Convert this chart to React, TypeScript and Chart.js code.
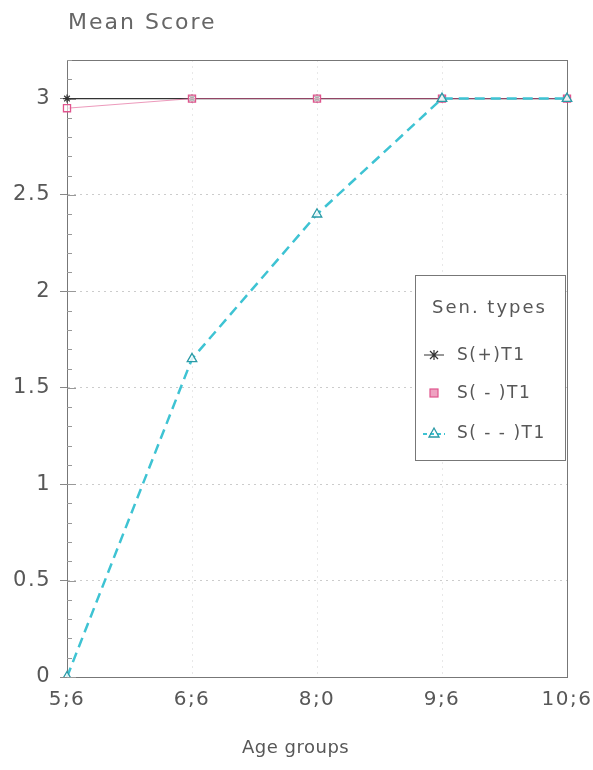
import React, { useEffect, useRef } from "react";
import { Chart, registerables } from "chart.js";

Chart.register(...registerables);

const categories = ["5;6", "6;6", "8;0", "9;6", "10;6"];
const sPlus = [3, 3, 3, 3, 3];
const sMinus = [2.95, 3, 3, 3, 3];
const sMinusMinus = [0, 1.65, 2.4, 3, 3];
const seriesNames = ["S(+)T1", "S( - )T1", "S( - - )T1"];
const legendTitle = "Sen. types";
const yTitle = "Mean Score";
const xTitle = "Age groups";

const FONT = "'DejaVu Sans', 'Liberation Sans', sans-serif";
const TEXT = "#575757";
const BLACK = "#333";
const PINK = "#e0558e";
const CYAN = "#3ec3d3";
const TEAL = "#2a9aa6";

function drawMarker(ctx: CanvasRenderingContext2D, kind: number, x: number, y: number) {
  ctx.save();
  if (kind === 0) {
    ctx.strokeStyle = BLACK;
    ctx.lineWidth = 1.2;
    ctx.beginPath();
    ctx.moveTo(x - 10, y);
    ctx.lineTo(x + 10, y);
    ctx.moveTo(x - 4, y - 4);
    ctx.lineTo(x + 4, y + 4);
    ctx.moveTo(x + 4, y - 4);
    ctx.lineTo(x - 4, y + 4);
    ctx.moveTo(x, y - 5);
    ctx.lineTo(x, y + 5);
    ctx.stroke();
  } else if (kind === 1) {
    ctx.fillStyle = "rgba(224,85,142,0.55)";
    ctx.strokeStyle = PINK;
    ctx.lineWidth = 1.2;
    ctx.fillRect(x - 4, y - 4, 8, 8);
    ctx.strokeRect(x - 4, y - 4, 8, 8);
  } else {
    ctx.strokeStyle = CYAN;
    ctx.lineWidth = 2;
    ctx.setLineDash([4, 3]);
    ctx.beginPath();
    ctx.moveTo(x - 11, y + 1);
    ctx.lineTo(x + 11, y + 1);
    ctx.stroke();
    ctx.setLineDash([]);
    ctx.strokeStyle = TEAL;
    ctx.lineWidth = 1.3;
    ctx.beginPath();
    ctx.moveTo(x, y - 5);
    ctx.lineTo(x + 5, y + 4);
    ctx.lineTo(x - 5, y + 4);
    ctx.closePath();
    ctx.stroke();
  }
  ctx.restore();
}

const framePlugin = {
  id: "frameAndExtras",
  beforeDraw(chart: any) {
    (chart.ctx as any).letterSpacing = "1.5px";
  },
  beforeDatasetsDraw(chart: any) {
    const { ctx, chartArea } = chart;
    const y = chart.scales.y;
    ctx.save();
    ctx.strokeStyle = "#777";
    ctx.lineWidth = 1;
    ctx.strokeRect(chartArea.left + 0.5, chartArea.top + 0.5, chartArea.right - chartArea.left, chartArea.bottom - chartArea.top);
    ctx.strokeStyle = "#999";
    for (let i = 0; i <= 32; i++) {
      const py = Math.round(y.getPixelForValue(i / 10)) + 0.5;
      ctx.beginPath();
      ctx.moveTo(chartArea.left, py);
      ctx.lineTo(chartArea.left + (i % 5 === 0 ? 9 : 5), py);
      ctx.stroke();
    }
    ctx.restore();
  },
  afterDraw(chart: any) {
    const { ctx, chartArea } = chart;
    ctx.save();
    ctx.textBaseline = "middle";
    ctx.textAlign = "left";
    ctx.fillStyle = "#666";
    (ctx as any).letterSpacing = "2px";
    ctx.font = `22px ${FONT}`;
    ctx.fillText(yTitle, chartArea.left + 1, 23);
    (ctx as any).letterSpacing = "0.5px";
    ctx.font = `18px ${FONT}`;
    ctx.fillStyle = TEXT;
    ctx.fillText(xTitle, chartArea.left + 175, 748);
    const w = 150;
    const h = 185;
    const left = chartArea.right - 152;
    const top = chartArea.top + 215;
    ctx.fillStyle = "#fff";
    ctx.fillRect(left, top, w, h);
    ctx.strokeStyle = "#777";
    ctx.lineWidth = 1;
    ctx.strokeRect(left + 0.5, top + 0.5, w, h);
    ctx.fillStyle = TEXT;
    (ctx as any).letterSpacing = "2px";
    ctx.font = `18px ${FONT}`;
    ctx.fillText(legendTitle, left + 17, top + 33);
    const rows = [80, 118, 158];
    for (let i = 0; i < 3; i++) {
      drawMarker(ctx, i, left + 19, top + rows[i]);
      ctx.fillStyle = TEXT;
      ctx.font = `17px ${FONT}`;
      (ctx as any).letterSpacing = "1.5px";
      ctx.fillText(seriesNames[i], left + 42, top + rows[i] + 1);
    }
    ctx.restore();
  },
};

export default function App() {
  const ref = useRef<HTMLCanvasElement>(null);
  useEffect(() => {
    if (!ref.current) return;
    const chart = new Chart(ref.current, {
      type: "line",
      data: {
        labels: categories,
        datasets: [
          {
            label: seriesNames[0],
            data: sPlus,
            borderColor: BLACK,
            borderWidth: 1.2,
            pointStyle: "star",
            pointRadius: 4,
            pointBorderColor: BLACK,
            pointBackgroundColor: BLACK,
            order: 3,
          },
          {
            label: seriesNames[1],
            data: sMinus,
            borderColor: "rgba(224,85,142,0.6)",
            borderWidth: 1,
            pointStyle: "rect",
            pointRadius: 5,
            pointBorderColor: PINK,
            pointBorderWidth: 1.3,
            pointBackgroundColor: "rgba(255,255,255,0.6)",
            order: 2,
          },
          {
            label: seriesNames[2],
            data: sMinusMinus,
            borderColor: CYAN,
            borderWidth: 2.5,
            borderDash: [10, 6],
            pointStyle: "triangle",
            pointRadius: 5.5,
            pointBorderColor: TEAL,
            pointBorderWidth: 1.3,
            pointBackgroundColor: "rgba(255,255,255,0.8)",
            order: 1,
          },
        ],
      },
      options: {
        animation: false,
        responsive: false,
        maintainAspectRatio: false,
        layout: { padding: { top: 60, right: 26, bottom: 0, left: 0 } },
        plugins: {
          legend: { display: false },
          tooltip: { enabled: false },
        },
        scales: {
          x: {
            type: "category",
            offset: false,
            grid: {
              color: "rgba(0,0,0,0.09)",
              drawTicks: false,
            },
            border: { display: true, color: "#555", dash: [2, 4] },
            ticks: {
              color: TEXT,
              font: { family: FONT, size: 20 },
              padding: 11,
              maxRotation: 0,
              autoSkip: false,
            },
            title: { display: false },
            afterFit: (s: any) => {
              s.height = 93;
              s.paddingLeft = 0;
              s.paddingRight = 0;
            },
          },
          y: {
            min: 0,
            max: 3.2,
            grid: {
              color: (c: any) => (c.tick && c.tick.value > 0 && c.tick.value < 3 ? "rgba(0,0,0,0.2)" : "rgba(0,0,0,0)"),
              tickColor: (c: any) => (c.tick && c.tick.value > 3.1 ? "rgba(0,0,0,0)" : "#888"),
              tickLength: 7,
            },
            border: { display: true, color: "#555", dash: [2, 4] },
            ticks: {
              stepSize: 0.5,
              color: TEXT,
              font: { family: FONT, size: 21 },
              padding: 9,
              callback: (v: any) => {
                const n = Number(v);
                return Math.abs(n * 2 - Math.round(n * 2)) < 1e-6 ? String(n) : "";
              },
            },
            afterFit: (s: any) => {
              s.width = 67;
              s.paddingTop = 0;
              s.paddingBottom = 0;
            },
          },
        },
      },
      plugins: [framePlugin],
    });
    return () => chart.destroy();
  }, []);
  return (
    <div style={{ position: "fixed", left: 0, top: 0, width: 593, height: 770, background: "#fff" }}>
      <canvas ref={ref} width={593} height={770} style={{ width: 593, height: 770, display: "block" }} />
    </div>
  );
}
